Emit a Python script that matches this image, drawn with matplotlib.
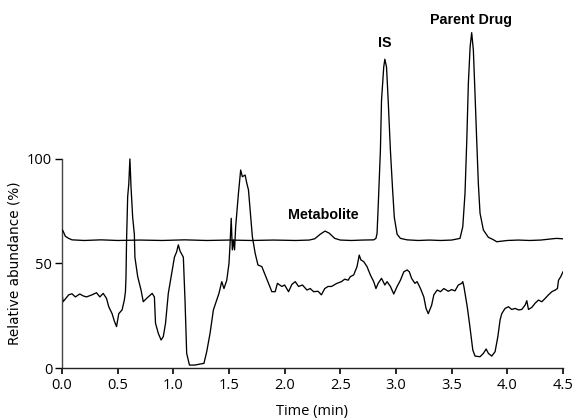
import matplotlib
matplotlib.use("Agg")
import matplotlib.pyplot as plt

# Upper trace (analyte channel, offset baseline ~61)
top_t = [0.00, 0.01, 0.03, 0.06, 0.09, 0.20, 0.35, 0.50, 0.70, 0.90, 1.10, 1.30, 1.50,
         1.70, 1.90, 2.10, 2.22, 2.27, 2.32, 2.363, 2.40, 2.45, 2.50, 2.60, 2.70, 2.80,
         2.82, 2.83, 2.84, 2.86, 2.87, 2.89, 2.90, 2.915, 2.93, 2.95, 2.97, 2.985, 3.01,
         3.04, 3.10, 3.20, 3.30, 3.40, 3.50, 3.575, 3.60, 3.62, 3.636, 3.65, 3.666, 3.68,
         3.695, 3.71, 3.725, 3.74, 3.755, 3.785, 3.83, 3.87, 3.905, 4.00, 4.10, 4.20,
         4.30, 4.44, 4.50]
top_y = [66.0, 65.5, 63.0, 62.0, 61.3, 61.0, 61.3, 61.0, 61.2, 61.0, 61.3, 61.0, 61.2,
         61.0, 61.2, 61.0, 61.2, 61.8, 64.0, 65.5, 64.5, 62.0, 61.2, 61.0, 61.2, 61.3,
         62.0, 64.4, 77.0, 104.0, 128.0, 144.0, 147.7, 144.0, 128.0, 104.0, 85.0, 72.0, 64.0,
         62.0, 61.3, 61.0, 61.2, 61.0, 61.2, 62.0, 67.6, 83.6, 109.0, 136.0, 153.7, 160.4,
         152.0, 131.0, 109.0, 88.0, 74.0, 66.0, 62.5, 61.5, 60.4, 61.0, 61.2, 61.0,
         61.2, 62.0, 61.8]

# Lower trace (matrix / ion suppression profile)
bottom_t = [0.00, 0.01, 0.06, 0.09, 0.12, 0.16, 0.19, 0.22, 0.27, 0.31, 0.34, 0.37, 0.40,
            0.42, 0.45, 0.47, 0.49, 0.51, 0.54, 0.56, 0.57, 0.575, 0.58, 0.59, 0.60, 0.61,
            0.62, 0.635, 0.65, 0.655, 0.68, 0.71, 0.73, 0.76, 0.81, 0.83, 0.84, 0.865, 0.89,
            0.91, 0.93, 0.955, 0.985, 1.01, 1.03, 1.045, 1.06, 1.09, 1.105, 1.12, 1.145,
            1.195, 1.24, 1.275, 1.30, 1.33, 1.36, 1.39, 1.41, 1.435, 1.455, 1.48, 1.50,
            1.51, 1.52, 1.53, 1.54, 1.55, 1.56, 1.585, 1.605, 1.62, 1.645, 1.66, 1.675,
            1.69, 1.71, 1.735, 1.76, 1.795, 1.825, 1.855, 1.885, 1.915, 1.935, 1.975, 2.00,
            2.035, 2.065, 2.095, 2.125, 2.16, 2.20, 2.23, 2.26, 2.30, 2.33, 2.36, 2.39,
            2.42, 2.47, 2.51, 2.54, 2.57, 2.59, 2.62, 2.65, 2.67, 2.685, 2.71, 2.74, 2.77,
            2.80, 2.82, 2.84, 2.87, 2.90, 2.92, 2.95, 2.98, 3.01, 3.04, 3.07, 3.10, 3.12,
            3.14, 3.17, 3.19, 3.22, 3.25, 3.27, 3.29, 3.32, 3.34, 3.37, 3.40, 3.43, 3.47,
            3.50, 3.53, 3.56, 3.59, 3.60, 3.61, 3.64, 3.66, 3.675, 3.69, 3.71, 3.755, 3.785,
            3.81, 3.83, 3.86, 3.89, 3.915, 3.935, 3.95, 3.98, 4.01, 4.04, 4.07, 4.10, 4.13,
            4.16, 4.175, 4.19, 4.22, 4.25, 4.28, 4.31, 4.34, 4.37, 4.40, 4.43, 4.45, 4.46,
            4.48, 4.50]
bottom_y = [35.7, 31.7, 35.0, 35.5, 34.0, 35.4, 34.5, 34.0, 35.0, 36.0, 34.0, 35.7, 33.3,
            29.3, 26.0, 22.5, 19.8, 26.0, 27.8, 32.5, 36.5, 43.7, 61.0, 82.0, 88.0, 100.0,
            86.7, 72.0, 64.0, 53.0, 43.7, 37.3, 31.7, 33.3, 35.7, 34.0, 21.4, 16.6, 13.4,
            15.0, 21.4, 35.7, 45.3, 53.0, 55.6, 58.9, 56.0, 53.0, 32.5, 7.0, 1.4,
            1.4, 1.9, 2.2, 7.8, 16.6, 27.8, 32.5, 35.7, 41.3, 38.0, 42.0, 50.0,
            59.6, 71.6, 56.5, 61.2, 56.5, 67.6, 83.6, 94.7, 91.5, 92.3, 88.4, 85.2,
            75.6, 62.8, 54.9, 49.3, 48.5, 44.5, 40.5, 36.5, 36.5, 40.5, 39.0, 39.7,
            36.5, 40.0, 41.3, 39.0, 39.7, 37.3, 38.0, 36.5, 36.7, 35.0, 38.0, 39.0,
            39.0, 40.5, 41.3, 42.5, 42.0, 43.7, 44.5, 48.5, 54.0, 51.7, 50.9, 48.5, 44.5,
            41.3, 38.0, 40.5, 42.9, 39.7, 41.3, 39.0, 35.4, 39.0, 42.0, 46.0, 46.9, 46.0,
            42.9, 40.5, 41.3, 38.0, 34.0, 28.5, 26.0, 30.0, 35.0, 37.3, 36.5, 38.0, 36.7,
            37.5, 36.9, 39.7, 40.5, 41.3, 39.0, 29.3, 21.4, 15.0, 8.6, 5.7, 5.4, 7.0,
            9.1, 7.0, 5.7, 7.8, 15.0, 23.0, 26.0, 28.5, 29.3, 28.0, 28.5, 27.8, 28.0,
            30.1, 32.2, 28.0, 29.0, 31.0, 32.5, 31.7, 33.3, 35.0, 36.5, 37.3, 38.0, 42.0,
            43.7, 46.0]

x_ticks = [0.0, 0.5, 1.0, 1.5, 2.0, 2.5, 3.0, 3.5, 4.0, 4.5]
x_tick_labels = ["0.0", "0.5", "1.0", "1.5", "2.0", "2.5", "3.0", "3.5", "4.0", "4.5"]
y_ticks = [0, 50, 100]
y_tick_labels = ["0", "50", "100"]

peak_labels = ["Metabolite", "IS", "Parent Drug"]
peak_label_t = [2.345, 2.90, 3.675]
peak_label_y = [73.2, 155.5, 166.5]

y_top = 170

fig = plt.figure(figsize=(5.75, 4.2), dpi=100)
ax = fig.add_axes([0.1078, 0.1238, 0.8713, 0.8462])

ax.plot(bottom_t, bottom_y, color="black", lw=0.95, zorder=2)
ax.plot(top_t, top_y, color="black", lw=0.95, zorder=3)

ax.set_xlim(0, 4.5)
ax.set_ylim(0, y_top)

for s in ["top", "right"]:
    ax.spines[s].set_visible(False)
ax.spines["left"].set_bounds(0, 100)
ax.spines["left"].set_color("#444444")
ax.spines["bottom"].set_color("#222222")
ax.spines["left"].set_linewidth(1.0)
ax.spines["bottom"].set_linewidth(1.0)

tick_font = "Open Sans"
ax.set_xticks(x_ticks)
ax.set_xticklabels(x_tick_labels, fontfamily=tick_font, fontsize=10.5)
ax.set_yticks(y_ticks)
ax.set_yticklabels(y_tick_labels, fontfamily=tick_font, fontsize=10.5)
ax.tick_params(axis="x", length=4, width=1.2, pad=3)
ax.tick_params(axis="y", length=5, width=1.0, pad=2)

ax.set_xlabel("Time (min)", fontfamily=tick_font, fontsize=10.5, labelpad=8)
ax.set_ylabel("Relative abundance (%)", fontfamily="DejaVu Sans", fontsize=9.8, labelpad=4)
ax.yaxis.label.set_y(50 / y_top)

for lab, tx, ty in zip(peak_labels, peak_label_t, peak_label_y):
    ax.text(tx, ty, lab, ha="center", va="center", fontfamily="Liberation Sans",
            fontweight="bold", fontsize=10.3)

fig.savefig("out.png", dpi=100)
